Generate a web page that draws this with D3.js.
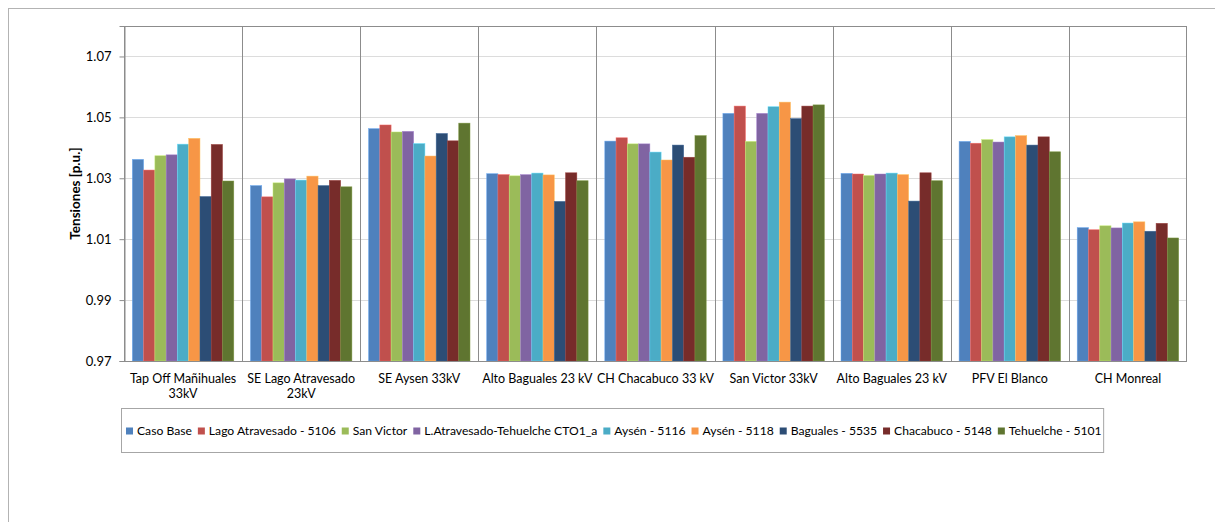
<!DOCTYPE html>
<html>
<head>
<meta charset="utf-8">
<script src="https://cdn.jsdelivr.net/npm/d3@7"></script>
<style>
  html, body { margin: 0; padding: 0; background: #ffffff; }
  svg { display: block; font-family: Lato, "Open Sans", sans-serif; }
</style>
</head>
<body>
<svg id="chart" width="1215" height="522"></svg>
<script>
// Substations (category axis), one label line per entry
const categories = [
  "Tap Off Mañihuales 33kV", "SE Lago Atravesado 23kV", "SE Aysen 33kV",
  "Alto Baguales 23 kV (1)", "CH Chacabuco 33 kV", "San Victor 33kV",
  "Alto Baguales 23 kV (2)", "PFV El Blanco", "CH Monreal"
];
const categoryLines = [
  ["Tap Off Mañihuales", "33kV"], ["SE Lago Atravesado", "23kV"], ["SE Aysen 33kV"],
  ["Alto Baguales 23 kV"], ["CH Chacabuco 33 kV"], ["San Victor 33kV"],
  ["Alto Baguales 23 kV"], ["PFV El Blanco"], ["CH Monreal"]
];

// Contingency scenarios (series)
const seriesNames = [
  "Caso Base", "Lago Atravesado - 5106", "San Victor", "L.Atravesado-Tehuelche CTO1_a",
  "Aysén - 5116", "Aysén - 5118", "Baguales - 5535", "Chacabuco - 5148", "Tehuelche - 5101"
];
const seriesColors = [
  "#4F81BD", "#C0504D", "#9BBB59", "#8064A2", "#4BACC6",
  "#F79646", "#2C4D75", "#772C2A", "#5F7530"
];

// Voltages in p.u., one array per scenario, in category order
const casoBase        = [1.0362, 1.0276, 1.0463, 1.0315, 1.0422, 1.0513, 1.0316, 1.0421, 1.0138];
const lagoAtravesado  = [1.0327, 1.0239, 1.0475, 1.0312, 1.0433, 1.0537, 1.0314, 1.0415, 1.0131];
const sanVictor       = [1.0374, 1.0285, 1.0452, 1.0308, 1.0413, 1.0421, 1.0309, 1.0427, 1.0144];
const lAtravTehuelche = [1.0377, 1.0298, 1.0454, 1.0312, 1.0413, 1.0513, 1.0314, 1.0419, 1.0137];
const aysen5116       = [1.0412, 1.0294, 1.0414, 1.0317, 1.0386, 1.0535, 1.0317, 1.0436, 1.0153];
const aysen5118       = [1.0431, 1.0307, 1.0373, 1.0311, 1.0360, 1.0550, 1.0312, 1.0440, 1.0157];
const baguales5535    = [1.0240, 1.0276, 1.0447, 1.0224, 1.0409, 1.0496, 1.0225, 1.0409, 1.0126];
const chacabuco5148   = [1.0411, 1.0293, 1.0423, 1.0318, 1.0369, 1.0537, 1.0318, 1.0436, 1.0152];
const tehuelche5101   = [1.0291, 1.0272, 1.0481, 1.0292, 1.0440, 1.0541, 1.0292, 1.0387, 1.0104];
const seriesValues = [casoBase, lagoAtravesado, sanVictor, lAtravTehuelche, aysen5116,
                      aysen5118, baguales5535, chacabuco5148, tehuelche5101];

const yTicks = [0.97, 0.99, 1.01, 1.03, 1.05, 1.07];
const yTitle = "Tensiones [p.u.]";

const svg = d3.select("#chart");
const plot = { left: 124, right: 1187, top: 26, bottom: 361 };

// Outer chart frame
svg.append("rect")
  .attr("x", 8.5).attr("y", 8.5).attr("width", 1240).attr("height", 540)
  .attr("fill", "none").attr("stroke", "#b3b3b3").attr("stroke-width", 1);

const x = d3.scaleBand().domain(categories).range([plot.left, plot.right]).padding(0);
const xs = d3.scaleBand().domain(seriesNames).range([0, x.bandwidth()])
  .paddingInner(0).paddingOuter(0.74);
const y = d3.scaleLinear().domain([0.97, 1.08]).range([plot.bottom, plot.top]);

// Horizontal gridlines
svg.append("g").selectAll("line").data(yTicks.slice(1)).join("line")
  .attr("x1", plot.left).attr("x2", plot.right)
  .attr("y1", d => Math.round(y(d)) + 0.5).attr("y2", d => Math.round(y(d)) + 0.5)
  .attr("stroke", "#dcdcdc").attr("stroke-width", 1.2);

// Bars
const groups = svg.append("g").selectAll("g").data(seriesValues).join("g")
  .attr("fill", (d, i) => seriesColors[i]);
groups.each(function(vals, si) {
  const c = d3.color(seriesColors[si]);
  d3.select(this).selectAll("rect").data(vals).join("rect")
    .attr("x", (v, ci) => x(categories[ci]) + xs(seriesNames[si]))
    .attr("y", v => y(v))
    .attr("width", xs.bandwidth())
    .attr("height", v => plot.bottom - y(v))
    .attr("stroke", c.brighter(0.7).formatHex())
    .attr("stroke-width", 0.6)
    .attr("stroke-opacity", 0.8);
});

// Category separators
svg.append("g").selectAll("line").data(categories.slice(1)).join("line")
  .attr("x1", d => Math.round(x(d)) + 0.5).attr("x2", d => Math.round(x(d)) + 0.5)
  .attr("y1", plot.top).attr("y2", plot.bottom)
  .attr("stroke", "#8c8c8c").attr("stroke-width", 1);

// Plot area border
svg.append("rect")
  .attr("x", plot.left + 0.5).attr("y", plot.top + 0.5)
  .attr("width", plot.right - plot.left - 1).attr("height", plot.bottom - plot.top)
  .attr("fill", "none").attr("stroke", "#8c8c8c").attr("stroke-width", 1);

// Y axis
const yAxis = d3.axisLeft(y).tickValues(yTicks).tickFormat(d3.format(".2f"))
  .tickSize(5).tickPadding(8);
const ya = svg.append("g").attr("transform", `translate(${plot.left + 0.5},0)`).call(yAxis);
ya.select(".domain").attr("stroke", "#8c8c8c");
ya.selectAll(".tick line").attr("stroke", "#8c8c8c");
ya.selectAll(".tick text").attr("font-size", 13).attr("fill", "#000")
  .attr("font-family", "Lato, sans-serif");

svg.append("text")
  .attr("transform", `translate(80,${(plot.top + plot.bottom) / 2}) rotate(-90)`)
  .attr("text-anchor", "middle").attr("font-size", 13.5).attr("font-weight", "bold")
  .text(yTitle);

// Category labels
const catG = svg.append("g").attr("font-size", 12.5).attr("text-anchor", "middle");
categories.forEach((c, i) => {
  const t = catG.append("text").attr("x", x(c) + x.bandwidth() / 2).attr("y", 383);
  categoryLines[i].forEach((ln, k) => {
    t.append("tspan").attr("x", x(c) + x.bandwidth() / 2).attr("dy", k === 0 ? 0 : 15).text(ln);
  });
});

// Legend
const legendBox = svg.append("rect")
  .attr("x", 121.5).attr("y", 408.5).attr("height", 44)
  .attr("fill", "#fff").attr("stroke", "#a6a6a6").attr("stroke-width", 1);
const lg = svg.append("g").attr("font-size", 12.15);
let lx = 126;
seriesNames.forEach((name, i) => {
  lg.append("rect").attr("x", lx).attr("y", 427.5).attr("width", 7).attr("height", 7)
    .attr("fill", seriesColors[i]);
  const t = lg.append("text").attr("x", lx + 11).attr("y", 435).text(name);
  lx += 11 + t.node().getComputedTextLength() + 6;
});
legendBox.attr("width", Math.max(lx - 121.5 - 4, 10));
</script>
</body>
</html>
